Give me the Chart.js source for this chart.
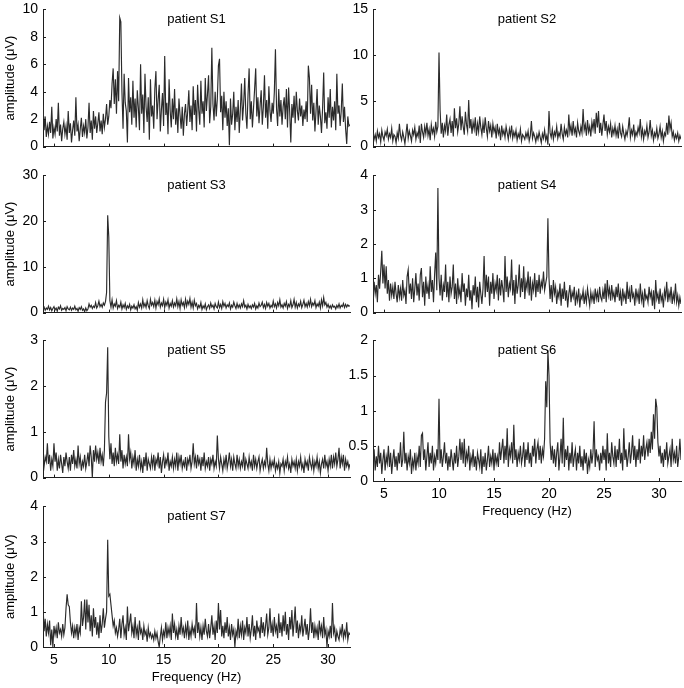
<!DOCTYPE html>
<html><head><meta charset="utf-8">
<script src="https://cdn.jsdelivr.net/npm/chart.js@4.4.0/dist/chart.umd.min.js"></script>
<style>
html,body{margin:0;padding:0;background:#fff;width:684px;height:688px;overflow:hidden;position:relative;}
canvas{position:absolute;}
</style></head><body>
<script>
// ---- data ----
const FREQ_START = 4, FREQ_STEP = 0.1;   // spectrum sampling grid (Hz)
const X_MIN = 4, X_MAX = 32;
const xTicks = [5, 10, 15, 20, 25, 30];
const titles = ['patient S1','patient S2','patient S3','patient S4','patient S5','patient S6','patient S7'];
const yTicksS1 = [0, 2, 4, 6, 8, 10];
const yTicksS2 = [0, 5, 10, 15];
const yTicksS3 = [0, 10, 20, 30];
const yTicksS4 = [0, 1, 2, 3, 4];
const yTicksS5 = [0, 1, 2, 3];
const yTicksS6 = [0, 0.5, 1, 1.5, 2];
const yTicksS7 = [0, 1, 2, 3, 4];

const ampS1 = [
3.0,1.2,2.2,0.7,1.5,0.9,1.8,1.0,2.9,0.6,
1.4,0.9,2.0,1.1,3.2,0.8,1.6,0.4,1.3,1.8,
0.9,1.5,0.5,2.6,1.0,1.7,0.3,1.2,1.9,0.8,
3.6,1.1,1.6,0.4,1.3,2.1,0.7,1.5,1.0,2.0,
0.6,1.4,3.2,1.0,1.9,0.5,2.6,1.3,2.2,1.0,
1.7,2.5,1.1,1.9,0.9,2.4,1.4,2.0,3.1,1.6,
2.2,3.4,2.8,4.6,5.7,3.1,4.9,2.4,5.5,3.3,
9.4,9.1,4.0,1.3,5.3,3.2,2.6,0.3,5.0,2.5,
3.6,1.6,4.8,2.1,3.5,1.4,4.1,2.8,1.2,6.0,
2.4,3.8,1.0,5.3,2.9,1.8,3.6,0.5,4.9,2.2,
3.0,1.3,4.2,5.5,2.0,3.4,4.5,1.1,2.7,3.9,
1.5,6.6,2.3,3.2,0.9,4.9,2.6,1.4,3.5,2.0,
4.2,1.6,2.8,1.0,3.5,2.3,1.3,2.9,0.8,2.4,
3.1,1.5,2.6,4.1,1.8,3.0,1.2,4.4,2.3,3.4,
1.1,4.5,2.7,1.6,4.8,2.4,3.3,1.4,5.0,2.6,
3.8,5.2,1.7,2.9,7.2,3.1,1.9,4.0,2.2,3.5,
5.9,6.4,2.5,3.7,1.2,4.0,2.1,3.3,1.5,2.8,
0.1,3.5,1.6,2.4,4.0,1.2,2.9,1.8,3.4,1.0,
2.7,4.6,1.9,3.1,5.0,2.4,1.3,3.8,5.7,2.0,
3.3,1.4,2.8,4.2,5.7,2.2,3.6,1.7,3.0,4.1,
1.6,2.9,5.2,2.1,3.4,1.3,4.4,2.6,1.8,3.2,
2.4,4.0,7.1,2.8,1.5,4.2,2.2,3.4,1.6,2.9,
3.6,2.0,4.2,1.4,4.3,2.5,0.3,3.1,2.1,3.7,
1.7,4.0,2.6,1.9,3.5,2.2,3.0,1.5,2.7,2.0,
3.3,1.8,5.9,5.0,2.4,4.5,1.9,3.2,1.1,2.6,
4.2,1.6,3.0,2.2,1.0,2.8,5.4,1.7,2.5,1.3,
3.6,2.1,4.2,1.4,2.9,1.9,3.3,1.2,5.3,2.4,
3.0,1.5,2.6,4.6,1.8,2.9,1.3,0.2,2.2,1.5,
1.6];

const ampS2 = [
1.5,0.8,1.3,0.6,1.7,1.0,1.4,0.5,1.8,1.1,
0.7,1.6,1.2,1.9,0.8,1.4,1.0,2.0,0.6,1.3,
1.1,0.4,1.5,0.9,2.5,1.2,0.7,1.6,1.0,0.3,
1.4,2.5,0.9,1.7,1.2,0.6,1.8,1.3,2.1,0.8,
1.5,1.1,2.3,0.4,2.5,1.6,1.0,2.2,1.4,2.6,
1.2,1.9,0.7,2.4,1.5,2.0,1.1,2.7,1.6,2.2,
10.3,4.0,1.4,2.6,1.0,2.3,1.7,3.5,1.2,2.4,
3.0,1.5,2.8,1.1,4.2,2.0,3.1,1.6,2.5,4.4,
1.8,3.3,2.2,1.3,3.8,2.4,1.7,5.1,2.0,3.0,
1.4,2.7,1.9,3.2,1.2,2.5,1.6,3.3,2.1,1.3,
2.6,1.5,3.2,2.0,1.1,2.8,1.7,2.3,1.0,2.5,
1.6,2.1,0.9,2.5,1.4,1.9,0.7,2.3,1.3,1.8,
1.0,2.2,1.5,0.8,1.9,1.2,2.3,0.9,1.6,1.1,
1.8,0.7,1.4,1.0,1.9,0.6,1.3,1.1,0.8,1.5,
1.0,1.7,0.6,1.2,2.8,0.9,1.5,1.1,0.5,1.3,
0.8,1.6,1.0,0.4,1.4,0.9,1.8,0.7,1.2,0.2,
3.9,1.5,1.0,1.9,0.8,1.6,1.2,2.2,0.9,1.5,
1.1,2.5,1.4,0.8,2.1,1.3,1.8,1.0,3.5,1.6,
2.3,1.2,2.8,1.5,2.0,1.0,2.6,1.7,1.3,2.2,
1.5,4.1,1.8,2.4,1.2,2.9,1.6,2.2,1.1,2.7,
1.9,3.0,1.4,3.7,2.1,3.9,1.5,2.6,1.2,2.4,
3.5,1.7,2.8,1.3,2.2,1.6,2.5,1.0,2.0,1.4,
2.3,1.2,1.9,0.9,2.6,1.5,1.1,2.2,1.4,0.8,
1.7,1.2,2.0,3.2,1.0,1.8,1.3,2.4,0.9,1.6,
1.2,2.1,1.5,3.0,1.1,1.9,0.8,1.7,1.3,2.3,
1.0,1.6,2.9,1.2,1.8,0.7,1.5,1.1,2.0,0.9,
1.4,2.2,1.0,1.7,0.6,1.5,1.2,2.6,1.3,3.4,
1.9,2.6,1.1,1.6,0.7,1.3,0.9,1.5,0.6,1.2,
0.8];

const ampS3 = [
0.8,1.2,0.5,1.0,0.7,1.4,0.6,1.1,0.4,0.9,
1.3,0.6,1.0,0.3,1.2,0.8,1.5,0.5,0.9,0.7,
1.1,0.4,1.3,0.8,0.6,1.2,0.5,1.0,0.7,1.4,
0.6,0.9,0.3,1.1,0.7,1.3,0.5,0.8,0.2,1.0,
0.4,0.8,1.9,1.2,1.6,0.9,1.4,1.1,2.2,1.0,
1.5,2.5,1.3,1.8,1.2,2.1,1.6,2.4,4.4,21.3,
16.5,2.6,1.2,2.8,1.0,1.9,1.4,2.6,0.9,1.6,
1.2,2.3,0.8,1.7,1.1,2.0,0.7,1.5,1.0,1.8,
0.6,1.4,1.0,1.7,0.8,1.3,0.5,2.2,1.2,1.9,
1.0,2.8,1.3,2.0,1.1,2.6,1.5,0.9,2.9,1.6,
2.2,1.3,2.7,1.0,2.4,1.7,3.0,1.2,2.1,1.5,
2.9,1.1,2.3,1.6,2.8,1.0,2.0,1.4,2.6,1.2,
2.1,1.5,3.0,1.3,2.4,0.9,2.8,1.6,2.2,1.1,
2.9,1.4,2.5,1.8,3.1,1.2,2.3,1.0,2.7,1.5,
2.0,0.8,1.6,1.1,2.2,0.7,1.5,1.0,1.9,0.6,
1.3,1.7,0.9,2.1,1.2,1.6,0.8,2.0,1.3,1.0,
2.3,1.1,1.8,0.9,2.4,1.4,2.0,1.0,1.7,1.3,
2.1,0.8,1.6,1.2,2.3,1.5,0.9,2.0,1.1,1.7,
1.0,1.9,1.3,2.6,1.2,1.6,0.8,1.8,1.1,1.5,
0.9,1.7,1.2,2.0,0.8,1.5,1.0,2.1,1.3,1.6,
2.3,1.1,1.8,0.9,2.2,1.4,2.0,1.0,1.6,1.2,
2.5,1.3,1.9,1.0,2.2,1.5,2.8,1.2,1.7,1.0,
2.0,1.4,2.4,0.9,1.8,1.3,2.6,1.1,1.7,2.9,
1.2,2.2,1.0,1.9,1.4,2.5,1.1,1.8,2.7,1.3,
2.0,1.2,2.4,1.5,2.9,1.3,2.1,1.6,2.6,1.1,
1.9,1.4,2.3,1.0,2.8,1.5,3.3,1.7,2.2,1.2,
1.8,1.0,1.5,0.9,1.7,1.2,1.4,0.8,1.6,1.1,
1.9,1.0,1.6,1.3,2.0,1.1,1.8,1.2,1.7,1.4,
1.5];

const ampS4 = [
0.40,0.90,0.55,0.80,0.30,1.10,0.70,1.20,1.80,0.85,
1.40,0.70,1.35,0.55,0.95,0.35,0.85,0.50,0.75,0.40,
0.90,0.55,0.30,0.80,0.45,0.70,0.35,0.95,0.50,0.65,
0.25,1.05,1.25,0.55,0.85,0.40,1.00,0.30,0.70,1.15,
0.50,0.85,0.35,1.10,1.30,0.45,0.90,0.20,1.05,0.55,
0.80,0.40,1.35,0.60,0.95,0.30,1.10,1.75,0.65,3.63,
1.00,0.50,1.10,0.35,0.80,0.60,1.40,0.45,0.90,0.30,
1.05,0.55,0.75,1.40,0.40,0.85,0.25,1.00,0.50,0.70,
0.30,1.15,0.60,0.85,0.20,0.70,0.45,1.10,0.35,0.65,
0.10,0.80,0.50,1.05,0.30,0.75,0.15,0.90,0.55,0.25,
0.70,1.65,0.45,1.10,0.60,1.05,0.20,0.90,0.55,1.15,
0.40,0.85,0.65,1.10,0.35,1.00,0.50,0.95,0.70,0.30,
1.65,0.60,1.05,0.45,0.85,0.70,1.55,0.50,0.95,0.25,
1.10,0.55,0.80,1.40,0.45,1.00,0.60,1.35,0.40,0.90,
0.70,1.20,0.50,1.05,0.35,0.85,0.65,1.15,0.45,0.95,
0.60,1.10,0.55,0.90,0.75,1.20,0.65,0.85,1.05,2.75,
1.00,0.40,0.80,0.30,0.95,0.55,0.75,0.25,0.60,0.45,
0.85,0.20,0.70,0.40,0.90,0.35,0.65,0.15,0.55,0.80,
0.30,0.60,0.45,0.75,0.20,0.55,0.35,0.70,0.15,0.50,
0.40,0.65,0.25,0.55,0.30,0.70,0.45,0.20,0.60,0.35,
0.55,0.25,0.70,0.40,0.60,0.30,0.75,0.45,0.35,0.65,
0.40,0.85,0.30,0.95,0.50,0.70,0.35,0.80,0.45,0.60,
0.30,0.75,0.45,0.85,0.35,0.60,0.20,0.70,0.40,0.55,
0.25,0.90,0.40,0.65,0.30,0.80,0.45,0.55,0.20,0.70,
0.40,0.60,0.25,0.85,0.35,0.55,0.15,0.70,0.40,0.50,
0.30,0.75,0.45,0.60,0.20,0.65,0.10,0.95,0.40,0.55,
0.25,0.70,0.35,0.50,0.15,0.65,0.45,0.90,0.30,0.60,
0.40,0.75,0.25,0.55,0.35,0.85,0.30,0.50,0.20,0.45,
0.25];

const ampS5 = [
0.50,0.25,0.45,0.35,0.75,0.30,0.50,0.15,0.40,0.25,
0.75,0.35,0.55,0.15,0.40,0.20,0.50,0.30,0.10,0.45,
0.25,0.55,0.35,0.20,0.45,0.15,0.50,0.30,0.60,0.25,
0.40,0.20,0.70,0.30,0.45,0.15,0.35,0.25,0.50,0.20,
0.35,0.55,0.25,0.70,0.45,0.00,0.60,0.35,0.70,0.40,
0.55,0.30,0.65,0.35,0.50,0.25,0.60,1.65,1.85,2.85,
0.90,0.40,0.75,0.30,0.55,0.25,0.65,0.35,0.50,0.30,
0.95,0.35,0.60,0.20,0.50,0.30,0.45,0.25,0.95,0.40,
0.55,0.20,0.45,0.30,0.60,0.15,0.40,0.25,0.50,0.20,
0.35,0.10,0.45,0.25,0.55,0.15,0.40,0.30,0.20,0.45,
0.25,0.50,0.15,0.40,0.30,0.55,0.20,0.45,0.10,0.35,
0.50,0.20,0.40,0.30,0.55,0.15,0.35,0.25,0.45,0.20,
0.40,0.25,0.55,0.15,0.45,0.30,0.50,0.20,0.35,0.25,
0.45,0.15,0.40,0.30,0.50,0.20,0.35,0.75,0.30,0.45,
0.20,0.50,0.30,0.40,0.15,0.45,0.25,0.55,0.20,0.35,
0.25,0.45,0.15,0.40,0.30,0.50,0.20,0.35,0.25,0.92,
0.40,0.20,0.45,0.30,0.15,0.40,0.25,0.50,0.20,0.35,
0.55,0.25,0.40,0.15,0.45,0.30,0.20,0.50,0.25,0.40,
0.20,0.35,0.25,0.55,0.15,0.40,0.30,0.20,0.45,0.25,
0.35,0.15,0.50,0.25,0.40,0.20,0.35,0.45,0.15,0.30,
0.40,0.20,0.35,0.25,0.65,0.30,0.15,0.40,0.20,0.35,
0.25,0.40,0.15,0.30,0.20,0.35,0.10,0.30,0.25,0.40,
0.15,0.35,0.25,0.45,0.20,0.30,0.10,0.40,0.25,0.35,
0.20,0.40,0.15,0.35,0.25,0.45,0.20,0.30,0.10,0.40,
0.25,0.35,0.15,0.45,0.30,0.20,0.40,0.15,0.35,0.25,
0.45,0.20,0.35,0.10,0.30,0.40,0.20,0.50,0.25,0.35,
0.15,0.40,0.25,0.50,0.20,0.45,0.30,0.55,0.25,0.40,
0.65,0.20,0.45,0.30,0.50,0.15,0.40,0.25,0.35,0.20,
0.30];

const ampS6 = [
0.30,0.45,0.15,0.35,0.20,0.50,0.25,0.40,0.10,0.30,
0.45,0.15,0.35,0.25,0.50,0.20,0.40,0.10,0.30,0.45,
0.20,0.35,0.15,0.40,0.25,0.55,0.20,0.30,0.70,0.25,
0.40,0.15,0.35,0.25,0.45,0.10,0.30,0.20,0.40,0.15,
0.35,0.25,0.50,0.20,0.65,0.68,0.30,0.45,0.15,0.35,
0.55,0.20,0.40,0.25,0.50,0.15,0.35,0.25,0.45,0.30,
1.17,0.25,0.45,0.20,0.35,0.55,0.25,0.40,0.15,0.35,
0.20,0.45,0.30,0.15,0.40,0.25,0.50,0.20,0.35,0.60,
0.30,0.55,0.25,0.60,0.20,0.40,0.30,0.50,0.15,0.35,
0.25,0.45,0.20,0.35,0.15,0.40,0.30,0.20,0.45,0.10,
0.35,0.20,0.40,0.15,0.30,0.50,0.20,0.35,0.25,0.45,
0.15,0.40,0.25,0.35,0.20,0.55,0.30,0.45,0.60,0.25,
0.50,0.30,0.75,0.20,0.45,0.35,0.55,0.25,0.80,0.30,
0.45,0.20,0.40,0.30,0.50,0.25,0.35,0.55,0.20,0.45,
0.30,0.55,0.25,0.40,0.20,0.50,0.35,0.60,0.25,0.45,
0.55,0.30,0.50,0.25,0.45,0.35,0.60,1.42,1.05,1.86,
1.50,0.55,0.30,0.50,0.25,0.45,0.20,0.40,0.55,0.15,
0.35,0.60,0.25,0.90,0.20,0.45,0.30,0.50,0.15,0.40,
0.25,0.55,0.20,0.35,0.45,0.15,0.40,0.25,0.50,0.20,
0.35,0.15,0.45,0.25,0.40,0.10,0.30,0.20,0.45,0.25,
0.40,0.85,0.20,0.45,0.30,0.35,0.15,0.40,0.25,0.50,
0.30,0.45,0.15,0.68,0.25,0.40,0.20,0.55,0.35,0.25,
0.50,0.20,0.45,0.30,0.60,0.25,0.40,0.15,0.75,0.30,
0.45,0.20,0.35,0.55,0.25,0.40,0.65,0.30,0.50,0.20,
0.45,0.30,0.60,0.25,0.50,0.35,0.65,0.30,0.45,0.55,
0.35,0.60,0.40,0.70,0.45,0.95,0.60,1.17,1.05,0.55,
0.35,0.50,0.25,0.40,0.20,0.45,0.30,0.55,0.25,0.35,
0.45,0.20,0.60,0.30,0.40,0.25,0.50,0.20,0.35,0.60,
0.30];

const ampS7 = [
1.20,0.45,0.80,0.30,0.65,0.40,0.75,0.05,0.50,0.00,
0.60,0.35,0.55,0.25,0.70,0.40,0.50,0.30,0.65,0.35,
0.55,1.10,1.50,1.20,1.15,0.70,0.40,0.60,0.25,0.55,
0.35,0.65,0.20,0.55,0.40,1.30,0.60,0.85,1.35,0.50,
1.35,0.70,1.20,0.45,0.90,0.30,1.10,0.55,0.85,0.35,
0.70,0.25,0.90,0.40,0.65,1.10,0.55,0.80,1.00,3.05,
1.45,1.50,1.20,0.90,0.60,0.75,0.40,0.55,0.30,0.50,
0.80,0.25,0.65,0.90,0.35,0.55,0.20,1.15,0.45,0.70,
0.95,0.40,0.60,0.25,0.85,0.35,0.55,0.20,0.75,0.40,
0.50,0.20,0.60,0.35,0.45,0.15,0.55,0.30,0.40,0.25,
0.35,0.20,0.45,0.25,0.40,0.15,0.00,0.30,0.55,0.20,
0.45,0.30,0.70,0.25,0.55,0.35,0.60,0.20,0.95,0.40,
0.65,0.30,0.50,0.20,0.60,0.35,0.85,0.40,0.55,0.25,
0.60,0.35,0.75,0.20,0.50,0.30,0.65,0.40,0.55,0.25,
1.25,0.40,0.70,0.30,0.55,0.20,0.60,0.35,0.80,0.45,
0.30,0.65,0.25,0.55,0.90,0.35,0.60,0.20,0.75,0.40,
1.25,0.50,1.05,0.30,0.60,0.25,0.70,0.40,0.85,0.30,
0.55,0.20,0.65,0.35,0.50,0.00,0.45,0.30,0.80,0.25,
0.60,0.35,0.75,0.20,0.55,0.40,0.85,0.30,0.65,0.25,
0.50,0.90,0.30,0.60,0.20,0.75,0.45,0.55,0.25,0.85,
0.40,0.70,0.30,0.60,0.95,0.35,0.55,1.10,0.40,0.65,
0.30,0.85,0.45,0.60,0.25,0.95,0.40,0.70,0.30,0.90,
0.45,1.00,0.35,0.65,0.20,0.85,0.50,1.05,0.30,0.70,
1.15,0.40,0.75,0.25,0.60,0.45,0.90,0.30,0.55,0.80,
0.35,0.65,0.20,0.50,1.10,0.40,0.70,0.25,0.60,0.35,
0.55,0.20,0.75,0.40,0.60,0.25,0.85,0.35,0.50,0.00,
0.45,0.30,0.60,0.25,1.25,0.40,0.55,0.15,0.45,0.30,
0.20,0.50,0.35,0.65,0.25,0.45,0.30,0.70,0.20,0.40,
0.35];

// ---- layout / style ----
const FONT = '"Liberation Sans", Arial, Helvetica, sans-serif';
const AXIS_COLOR = '#1e1e1e';
const LINE_COLOR = '#2b2b2b';
const COLS = [
  {left: 0,   width: 356, yAxisW: 43, padRight: 6, yTitle: true},
  {left: 340, width: 344, yAxisW: 33, padRight: 3, yTitle: false}
];
const ROW_TOP = [8, 174, 339, 505];
const PLOT_H = 142, PAD_TOP = 12;

const panels = [
  {amp: ampS1, yTicks: yTicksS1, col: 0, row: 0, xLabels: false},
  {amp: ampS2, yTicks: yTicksS2, col: 1, row: 0, xLabels: false},
  {amp: ampS3, yTicks: yTicksS3, col: 0, row: 1, xLabels: false},
  {amp: ampS4, yTicks: yTicksS4, col: 1, row: 1, xLabels: false},
  {amp: ampS5, yTicks: yTicksS5, col: 0, row: 2, xLabels: false},
  {amp: ampS6, yTicks: yTicksS6, col: 1, row: 2, xLabels: true},
  {amp: ampS7, yTicks: yTicksS7, col: 0, row: 3, xLabels: true}
];

const innerTicks = {
  id: 'innerTicks',
  afterDraw(chart, args, opts) {
    const {ctx, chartArea: a, scales: {x, y}} = chart;
    ctx.save();
    ctx.strokeStyle = AXIS_COLOR;
    ctx.lineWidth = 1;
    ctx.beginPath();
    x.ticks.forEach(t => {
      const px = Math.round(x.getPixelForValue(t.value)) + 0.5;
      ctx.moveTo(px, a.bottom); ctx.lineTo(px, a.bottom - 3);
    });
    y.ticks.forEach(t => {
      const py = Math.round(y.getPixelForValue(t.value)) + 0.5;
      ctx.moveTo(a.left, py); ctx.lineTo(a.left + 3, py);
    });
    ctx.stroke();
    ctx.font = '13px ' + FONT;
    ctx.fillStyle = '#000';
    ctx.textAlign = 'center';
    ctx.textBaseline = 'middle';
    ctx.fillText(opts.text, (a.left + a.right) / 2, a.top + 10);
    ctx.restore();
  }
};

panels.forEach((p, i) => {
  const c = COLS[p.col];
  const xAxisH = p.xLabels ? 41 : 10;
  const canvas = document.createElement('canvas');
  const h = PAD_TOP + PLOT_H + xAxisH;
  canvas.width = c.width; canvas.height = h;
  canvas.style.left = c.left + 'px';
  canvas.style.top = (ROW_TOP[p.row] - PAD_TOP) + 'px';
  canvas.style.width = c.width + 'px'; canvas.style.height = h + 'px';
  document.body.appendChild(canvas);

  const pts = p.amp.map((v, k) => ({x: FREQ_START + k * FREQ_STEP, y: v}));
  const yTicks = p.yTicks;
  new Chart(canvas, {
    type: 'line',
    data: {datasets: [{data: pts, borderColor: LINE_COLOR, borderWidth: 1.15, pointRadius: 0, tension: 0, fill: false}]},
    options: {
      responsive: false, animation: false, devicePixelRatio: 1,
      layout: {padding: {top: PAD_TOP, right: c.padRight, left: 0, bottom: 0}},
      plugins: {legend: {display: false}, tooltip: {enabled: false}, innerTicks: {text: titles[i]}},
      scales: {
        x: {
          type: 'linear', min: X_MIN, max: X_MAX,
          afterBuildTicks: s => { s.ticks = xTicks.map(v => ({value: v})); },
          afterFit: s => { s.height = xAxisH; },
          grid: {display: false, drawTicks: false},
          border: {display: true, color: AXIS_COLOR, width: 1},
          ticks: {display: p.xLabels, padding: 5, color: '#000', font: {family: FONT, size: 14}, maxRotation: 0, autoSkip: false,
                  callback: v => String(v)},
          title: {display: p.xLabels, text: 'Frequency (Hz)', color: '#000', font: {family: FONT, size: 13}, padding: {top: 0, bottom: 3}}
        },
        y: {
          type: 'linear', min: 0, max: yTicks[yTicks.length - 1],
          afterBuildTicks: s => { s.ticks = yTicks.map(v => ({value: v})); },
          afterFit: s => { s.width = c.yAxisW; },
          grid: {display: false, drawTicks: false},
          border: {display: true, color: AXIS_COLOR, width: 1},
          ticks: {padding: 5, color: '#000', font: {family: FONT, size: 14}, autoSkip: false, callback: v => String(v)},
          title: {display: c.yTitle, text: 'amplitude (μV)', color: '#000', font: {family: FONT, size: 13}, padding: {top: 3, bottom: 0}}
        }
      }
    },
    plugins: [innerTicks]
  });
});
</script>
</body></html>
